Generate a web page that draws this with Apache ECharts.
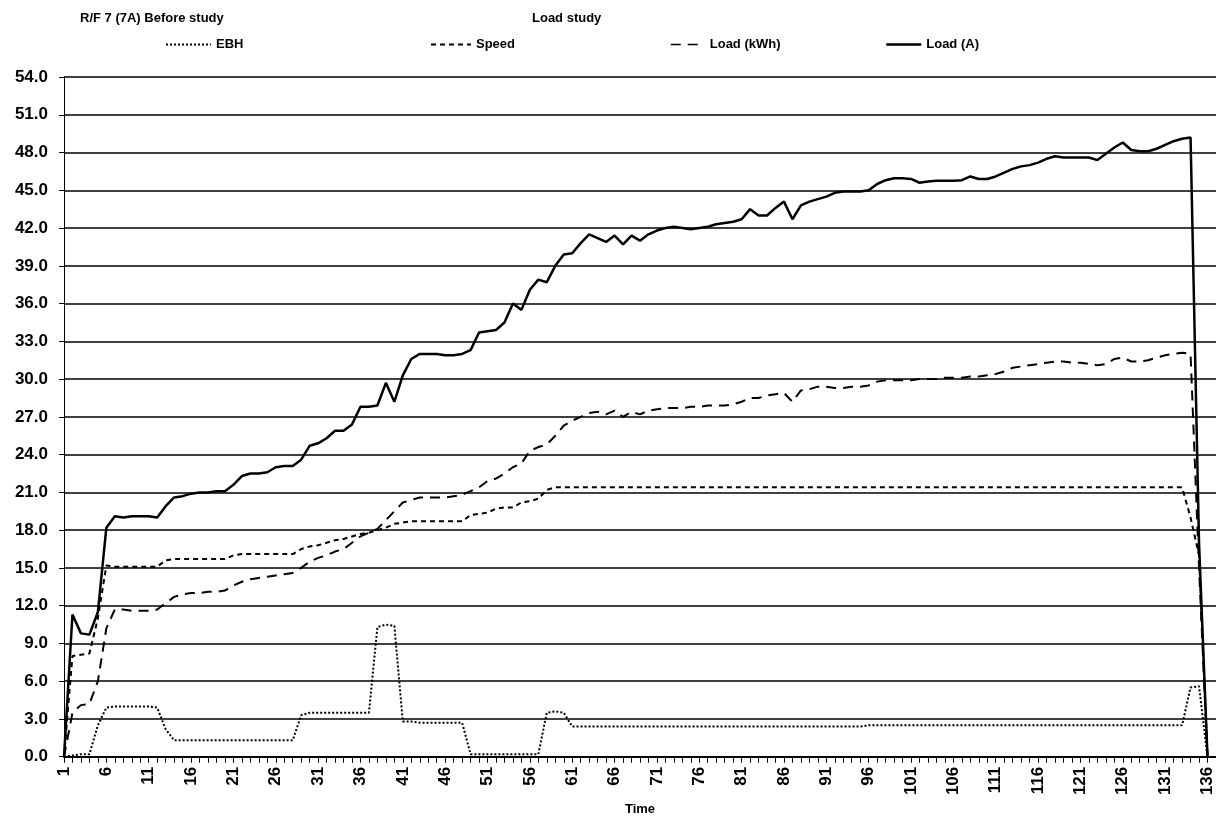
<!DOCTYPE html>
<html>
<head>
<meta charset="utf-8">
<script src="https://cdn.jsdelivr.net/npm/echarts@6/dist/echarts.min.js"></script>
<style>
html,body{margin:0;padding:0;background:#fff;}
#chart{width:1216px;height:821px;}
</style>
</head>
<body>
<div id="chart"></div>
<script>
// Time categories (137th is an empty slot at the right edge of the plot)
var categories = ['1','2','3','4','5','6','7','8','9','10','11','12','13','14','15','16','17','18','19','20',
'21','22','23','24','25','26','27','28','29','30','31','32','33','34','35','36','37','38','39','40',
'41','42','43','44','45','46','47','48','49','50','51','52','53','54','55','56','57','58','59','60',
'61','62','63','64','65','66','67','68','69','70','71','72','73','74','75','76','77','78','79','80',
'81','82','83','84','85','86','87','88','89','90','91','92','93','94','95','96','97','98','99','100',
'101','102','103','104','105','106','107','108','109','110','111','112','113','114','115','116','117','118','119','120',
'121','122','123','124','125','126','127','128','129','130','131','132','133','134','135','136','137'];

var ebh = [0,0.1,0.2,0.2,2.5,3.9,4.0,4.0,4.0,4.0,
4.0,3.9,2.2,1.3,1.3,1.3,1.3,1.3,1.3,1.3,
1.3,1.3,1.3,1.3,1.3,1.3,1.3,1.3,3.3,3.5,
3.5,3.5,3.5,3.5,3.5,3.5,3.5,10.3,10.5,10.4,
2.8,2.8,2.7,2.7,2.7,2.7,2.7,2.7,0.2,0.2,
0.2,0.2,0.2,0.2,0.2,0.2,0.2,3.5,3.6,3.5,
2.4,2.4,2.4,2.4,2.4,2.4,2.4,2.4,2.4,2.4,
2.4,2.4,2.4,2.4,2.4,2.4,2.4,2.4,2.4,2.4,
2.4,2.4,2.4,2.4,2.4,2.4,2.4,2.4,2.4,2.4,
2.4,2.4,2.4,2.4,2.4,2.5,2.5,2.5,2.5,2.5,
2.5,2.5,2.5,2.5,2.5,2.5,2.5,2.5,2.5,2.5,
2.5,2.5,2.5,2.5,2.5,2.5,2.5,2.5,2.5,2.5,
2.5,2.5,2.5,2.5,2.5,2.5,2.5,2.5,2.5,2.5,
2.5,2.5,2.5,5.5,5.6,0];

var speed = [0,8.0,8.1,8.2,11.0,15.2,15.1,15.1,15.1,15.1,
15.1,15.1,15.6,15.7,15.7,15.7,15.7,15.7,15.7,15.7,
16.0,16.1,16.1,16.1,16.1,16.1,16.1,16.1,16.5,16.7,
16.8,17.0,17.2,17.3,17.5,17.7,17.8,18.0,18.2,18.5,
18.6,18.7,18.7,18.7,18.7,18.7,18.7,18.7,19.2,19.3,
19.4,19.7,19.8,19.8,20.2,20.3,20.5,21.2,21.4,21.4,
21.4,21.4,21.4,21.4,21.4,21.4,21.4,21.4,21.4,21.4,
21.4,21.4,21.4,21.4,21.4,21.4,21.4,21.4,21.4,21.4,
21.4,21.4,21.4,21.4,21.4,21.4,21.4,21.4,21.4,21.4,
21.4,21.4,21.4,21.4,21.4,21.4,21.4,21.4,21.4,21.4,
21.4,21.4,21.4,21.4,21.4,21.4,21.4,21.4,21.4,21.4,
21.4,21.4,21.4,21.4,21.4,21.4,21.4,21.4,21.4,21.4,
21.4,21.4,21.4,21.4,21.4,21.4,21.4,21.4,21.4,21.4,
21.4,21.4,21.4,19.0,16.0,0];

var loadKwh = [0,3.5,4.1,4.2,6.0,10.2,11.7,11.7,11.6,11.6,
11.6,11.7,12.2,12.7,12.9,13.0,13.0,13.1,13.1,13.2,
13.6,13.9,14.1,14.2,14.3,14.4,14.5,14.6,15.0,15.5,
15.8,16.0,16.3,16.5,17.0,17.5,17.8,18.1,18.8,19.5,
20.2,20.4,20.6,20.6,20.6,20.6,20.7,20.8,21.1,21.4,
21.9,22.1,22.5,23.0,23.3,24.3,24.6,24.8,25.5,26.3,
26.7,27.0,27.3,27.4,27.2,27.5,27.0,27.4,27.2,27.5,
27.6,27.7,27.7,27.7,27.8,27.8,27.9,27.9,27.9,28.0,
28.2,28.5,28.5,28.7,28.8,28.9,28.2,29.1,29.2,29.4,
29.4,29.3,29.3,29.4,29.4,29.5,29.8,29.9,29.9,29.9,
29.9,30.0,30.0,30.0,30.1,30.1,30.1,30.2,30.2,30.3,
30.4,30.6,30.9,31.0,31.1,31.2,31.3,31.4,31.4,31.3,
31.3,31.2,31.1,31.2,31.6,31.7,31.4,31.4,31.5,31.7,
31.9,32.0,32.1,32.0,15.0,0];

var loadA = [0,11.3,9.8,9.7,11.5,18.2,19.1,19.0,19.1,19.1,
19.1,19.0,19.9,20.6,20.7,20.9,21.0,21.0,21.1,21.1,
21.6,22.3,22.5,22.5,22.6,23.0,23.1,23.1,23.6,24.7,
24.9,25.3,25.9,25.9,26.4,27.8,27.8,27.9,29.7,28.2,
30.3,31.6,32.0,32.0,32.0,31.9,31.9,32.0,32.3,33.7,
33.8,33.9,34.5,36.0,35.5,37.1,37.9,37.7,39.0,39.9,
40.0,40.8,41.5,41.2,40.9,41.4,40.7,41.4,41.0,41.5,
41.8,42.0,42.1,42.0,41.9,42.0,42.1,42.3,42.4,42.5,
42.7,43.5,43.0,43.0,43.6,44.1,42.7,43.8,44.1,44.3,
44.5,44.8,44.9,44.9,44.9,45.0,45.5,45.8,45.95,45.95,
45.9,45.6,45.7,45.75,45.75,45.75,45.8,46.1,45.9,45.9,
46.1,46.4,46.7,46.9,47.0,47.2,47.5,47.7,47.6,47.6,
47.6,47.6,47.4,47.9,48.4,48.8,48.2,48.1,48.1,48.3,
48.6,48.9,49.1,49.2,17.0,0];

var titleLeft = 'R/F 7 (7A) Before study';
var titleMid = 'Load study';
var xName = 'Time';
var seriesNames = ['EBH','Speed','Load (kWh)','Load (A)'];

var FONT = '"Liberation Sans", Arial, Helvetica, sans-serif';
var chart = echarts.init(document.getElementById('chart'), null, {renderer:'canvas'});

function legendFor(name, left, w, dash, width){
  return {
    data:[{name:name,
           itemStyle:{opacity:0, borderWidth:0},
           lineStyle:{type:dash, width:width, color:'#000', opacity:1}}],
    left:left, top:33, itemWidth:w, itemHeight:14, itemGap:0,
    selectedMode:false,
    textStyle:{fontFamily:FONT, fontSize:13, fontWeight:'bold', color:'#000'}
  };
}

var option = {
  backgroundColor:'#fff',
  animation:false,
  title:[
    {text:titleLeft, left:75, top:7, textStyle:{fontFamily:FONT, fontSize:13, fontWeight:'bold', color:'#000'}},
    {text:titleMid, left:527, top:7, textStyle:{fontFamily:FONT, fontSize:13, fontWeight:'bold', color:'#000'}}
  ],
  legend:[
    legendFor(seriesNames[0], 160, 45, [2,2], 2),
    legendFor(seriesNames[1], 425, 40, [5,4], 2),
    legendFor(seriesNames[2], 665, 34, [10,7], 1.5),
    legendFor(seriesNames[3], 880, 35, 'solid', 2.5)
  ],
  grid:{left:64, right:0, top:77, bottom:64, containLabel:false},
  xAxis:{
    type:'category',
    data:categories,
    boundaryGap:false,
    name:xName,
    nameLocation:'middle',
    nameGap:44,
    nameTextStyle:{fontFamily:FONT, fontSize:13, fontWeight:'bold', color:'#000'},
    axisLine:{show:true, lineStyle:{color:'#000', width:2}},
    axisTick:{show:true, interval:0, length:6, inside:false, lineStyle:{color:'#000', width:1}},
    axisLabel:{interval:function(i){return i % 5 === 0 && i <= 135;}, rotate:90, margin:10,
               fontFamily:FONT, fontSize:17, fontWeight:'bold', color:'#000'},
    splitLine:{show:false}
  },
  yAxis:{
    type:'value',
    min:0, max:54, interval:3,
    axisLine:{show:true, lineStyle:{color:'#000', width:1}},
    axisTick:{show:true, length:5, inside:false, lineStyle:{color:'#000'}},
    axisLabel:{margin:16, fontFamily:FONT, fontSize:17, fontWeight:'bold', color:'#000',
               formatter:function(v){return v.toFixed(1);}},
    splitLine:{show:true, lineStyle:{color:'#000', width:1.6}}
  },
  series:[
    {name:seriesNames[0], type:'line', data:ebh, symbol:'none', showSymbol:false,
     lineStyle:{color:'#000', width:2, type:[2,2]}, itemStyle:{color:'#000'}, z:3},
    {name:seriesNames[1], type:'line', data:speed, symbol:'none', showSymbol:false,
     lineStyle:{color:'#000', width:2, type:[5,4]}, itemStyle:{color:'#000'}, z:4},
    {name:seriesNames[2], type:'line', data:loadKwh, symbol:'none', showSymbol:false,
     lineStyle:{color:'#000', width:2, type:[10,7]}, itemStyle:{color:'#000'}, z:5},
    {name:seriesNames[3], type:'line', data:loadA, symbol:'none', showSymbol:false,
     lineStyle:{color:'#000', width:2.5, type:'solid'}, itemStyle:{color:'#000'}, z:6}
  ]
};
chart.setOption(option);
</script>
</body>
</html>
